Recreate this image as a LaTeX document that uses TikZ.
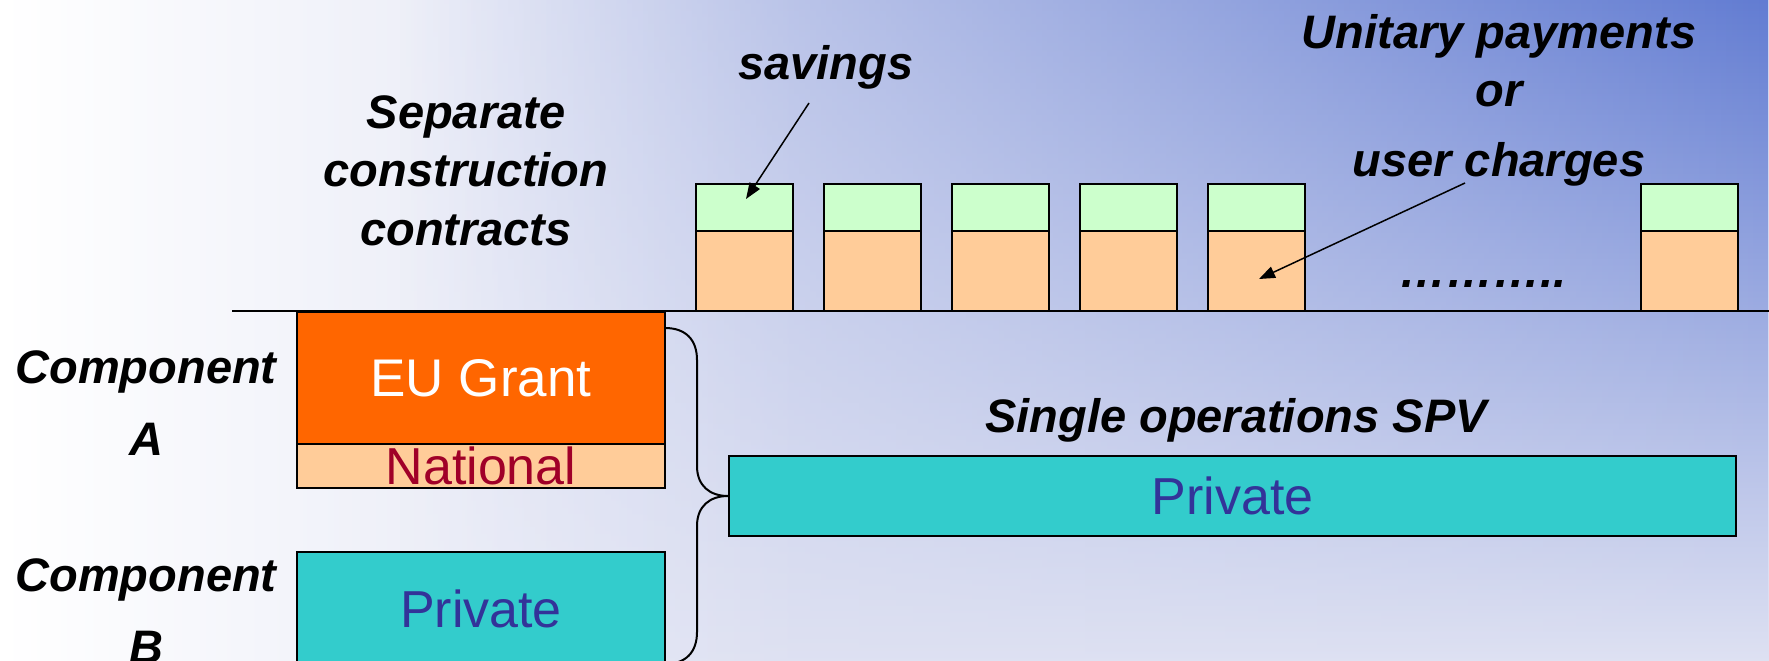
\documentclass[tikz,border=0pt]{standalone}
\usepackage{fontspec}
\setmainfont{Liberation Sans}
\usetikzlibrary{arrows.meta,fadings}
\definecolor{lav}{RGB}{222,225,242}
\definecolor{bluetop}{RGB}{98,124,210}
\definecolor{savgreen}{RGB}{204,255,204}
\definecolor{peach}{RGB}{255,204,153}
\definecolor{euorange}{RGB}{255,102,0}
\definecolor{tealbox}{RGB}{51,204,204}
\definecolor{privtext}{RGB}{51,51,153}
\definecolor{natred}{RGB}{160,0,40}
\tikzfading[name=fadeR, left color=transparent!100, right color=transparent!0]
\begin{document}
\begin{tikzpicture}[x=1pt,y=1pt,
  lbl/.style={font=\fontsize{47}{58.5}\selectfont\bfseries\itshape, align=center, inner sep=0pt, anchor=base},
  box/.style={draw=black, line width=2.5pt, inner sep=0pt, outer sep=0pt},
  big/.style={font=\fontsize{52}{60}\selectfont},
  pointer/.style={line width=1.5pt, -{Triangle[length=16pt,width=12pt]}}]
\useasboundingbox (0,0) rectangle (1769,-661);
% background
\shade[left color=white, right color=lav] (0,0) rectangle (800,-661);
\fill[lav] (800,0) rectangle (1769,-661);
\shade[top color=bluetop, bottom color=lav, path fading=fadeR] (400,0) rectangle (1769,-661);

% labels (anchor base = baseline of the last line)
\node[lbl] (sep) at (466,-245) {Separate\\construction\\contracts};
\node[lbl] (sav) at (826,-80) {savings};
\node[lbl] (unit) at (1499,-176) {Unitary payments\\or\\[11pt]user charges};
\node[lbl] (dots) at (1483,-287) {………..};
\node[lbl, font=\fontsize{47}{72}\selectfont\bfseries\itshape] (compA) at (146,-455) {Component\\A};
\node[lbl, font=\fontsize{47}{72}\selectfont\bfseries\itshape] (compB) at (146,-663) {Component\\B};
\node[lbl] (spv) at (1236,-432) {Single operations SPV};

% top boxes
\foreach \i/\x in {1/696,2/824,3/952,4/1080,5/1208,6/1641}{
  \node[box, fill=savgreen, minimum width=97pt, minimum height=47pt, anchor=north west] (s\i) at (\x,-184) {};
  \node[box, fill=peach, minimum width=97pt, minimum height=80pt, anchor=north west] (u\i) at (\x,-231) {};
}

% component boxes
\node[box, fill=euorange, text=white, font=\fontsize{53}{60}\selectfont, minimum width=368pt, minimum height=132pt, anchor=north west] (eu) at (297,-312) {EU Grant};
\node[box, fill=peach, text=natred, big, minimum width=368pt, minimum height=44pt, anchor=north west] (nat) at (297,-444) {National};
\node[box, fill=tealbox, text=privtext, big, minimum width=368pt, minimum height=114pt, anchor=north west] (privB) at (297,-552) {Private};
\node[box, fill=tealbox, text=privtext, big, minimum width=1007pt, minimum height=80pt, anchor=north west] (privS) at (729,-456) {Private};

% base line
\coordinate (L0) at (232,-311);
\coordinate (L1) at (1769,-311);
\draw[line width=2.5pt] (L0) -- (L1);

% brace
\coordinate (bt) at (665,-328);
\coordinate (tip) at (728,-496);
\coordinate (bb) at (665,-664);
\draw[line width=2pt] (bt) .. controls (686,-328) and (697,-340) .. (697,-360)
  -- (697,-466) .. controls (697,-486) and (710,-496) .. (tip)
  .. controls (710,-496) and (697,-506) .. (697,-526)
  -- (697,-632) .. controls (697,-652) and (686,-664) .. (bb);

% arrows
\coordinate (a1s) at (809,-103);
\coordinate (a1e) at (746,-199);
\draw[pointer] (a1s) -- (a1e);
\coordinate (a2s) at (1465,-183);
\coordinate (a2e) at (1259,-279);
\draw[pointer] (a2s) -- (a2e);
\end{tikzpicture}
\end{document}
